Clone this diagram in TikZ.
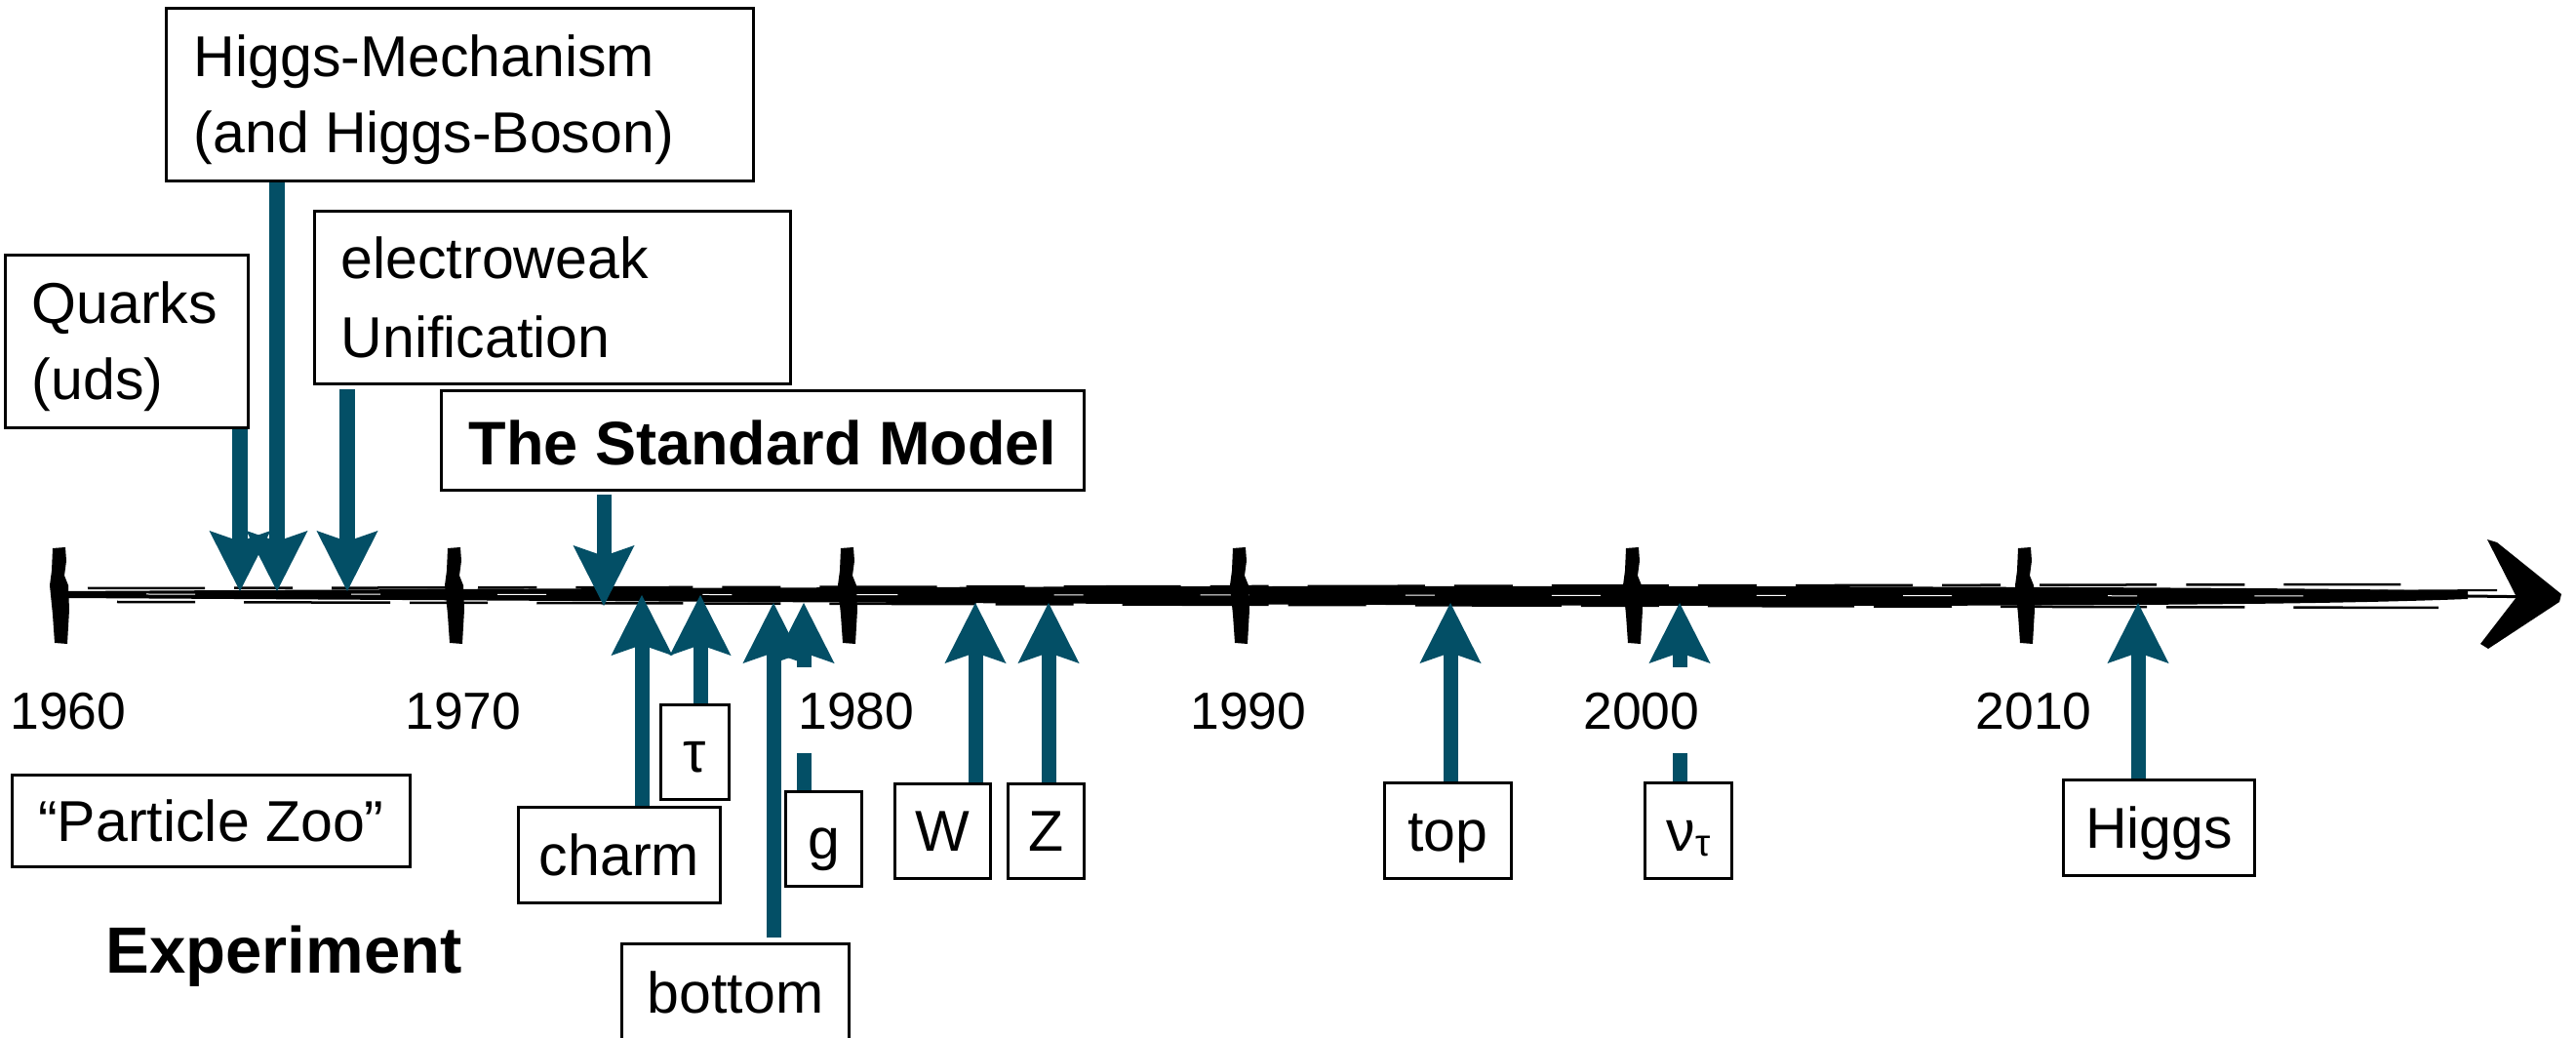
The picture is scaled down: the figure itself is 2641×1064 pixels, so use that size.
\documentclass[tikz,border=0pt]{standalone}
\usepackage{fontspec}
\setmainfont{Liberation Sans}
\usetikzlibrary{arrows.meta,calc}
\definecolor{tealc}{RGB}{3,79,102}
\newcommand\myboxfont{\fontsize{16.79pt}{20pt}\selectfont}
\newcommand\myyearfont{\fontsize{15.2pt}{18pt}\selectfont}
\newcommand\mysmfont{\fontsize{17.93pt}{21pt}\selectfont\bfseries}
\newcommand\myexpfont{\fontsize{19.06pt}{23pt}\selectfont\bfseries}
\begin{document}
\begin{tikzpicture}[x=0.01cm,y=-0.01cm,
  boxframe/.style={draw=black,line width=0.03cm,fill=white,inner sep=0pt},
  sbox/.style={boxframe,font=\myboxfont,text height=0.41cm,text depth=0cm},
  txt/.style={font=\myboxfont,inner sep=0pt,anchor=base west},
  yearlbl/.style={fill=white,font=\myyearfont,text height=0.38cm,text depth=0cm,minimum height=0.88cm,inner xsep=0.05cm,inner ysep=0pt},
  arr/.style={draw=tealc,line width=0.15cm,-{Stealth[length=0.62cm,width=0.63cm,inset=0.11cm,line width=0pt]}},
]
\useasboundingbox (0,0) rectangle (2641,1064);
\clip (0,0) rectangle (2641,1064);

% ---------- sketchy time axis ----------
\fill[black] (64,606) .. controls (600,603) and (1200,600) .. (1800,601)
   .. controls (2200,602) and (2400,603) .. (2530,606) -- (2530,614)
   .. controls (2400,619) and (2200,621) .. (1800,621)
   .. controls (1200,620) and (600,616) .. (64,613) -- cycle;
\draw[line width=0.025cm, dash pattern=on 1.2cm off 0.3cm on 0.6cm off 0.4cm] (90,603) -- (2480,599);
\draw[line width=0.025cm, dash pattern=on 0.8cm off 0.5cm on 1.5cm off 0.2cm] (120,617) -- (2500,623);
\draw[white, line width=0.01cm, dash pattern=on 0.5cm off 1.6cm on 0.3cm off 1.2cm] (150,609) -- (2450,611);
\draw[line width=0.03cm] (2450,610) -- (2610,612);
\draw[line width=0.02cm] (2400,606) -- (2560,605);
\fill (2550,553) -- (2560,556) -- (2626,609) -- (2624,617) -- (2551,665) -- (2543,660) -- (2580,612) -- cycle;

\foreach \t in {61,466,869,1271,1674,2076}{
  \fill (\t-7,562) -- (\t+6,561) -- (\t+7,575) -- (\t+5,590) -- (\t+9,600) -- (\t+10,625)
     -- (\t+8,660) -- (\t-5,659) -- (\t-7,630) -- (\t-10,600) -- (\t-8,585) -- cycle;
}

% ---------- theory boxes ----------
\node[boxframe, minimum width=6.01cm, minimum height=1.76cm] (higgsM) at (471.5,97) {};
\node[txt] (higgsMa) at (198,79) {Higgs-Mechanism};
\node[txt] (higgsMb) at (198,157) {(and Higgs-Boson)};

\node[boxframe, minimum width=2.48cm, minimum height=1.76cm] (quarks) at (130,350) {};
\node[txt] (quarksa) at (32,332) {Quarks};
\node[txt] (quarksb) at (32,410) {(uds)};

\node[boxframe, minimum width=4.87cm, minimum height=1.76cm] (ew) at (566.5,305) {};
\node[txt] (ewa) at (349,286) {electroweak};
\node[txt] (ewb) at (349,367) {Unification};

\node[boxframe, font=\mysmfont, text height=0.49cm, text depth=0cm,
      minimum width=6.58cm, minimum height=1.01cm] (sm) at (782,451.5) {The Standard Model};

% ---------- experiment boxes ----------
\node[sbox, minimum width=4.07cm, minimum height=0.93cm] (zoo) at (216.5,841.5) {“Particle Zoo”};
\node[font=\myexpfont, anchor=base west, inner sep=0pt] (exp) at (108,998) {Experiment};

\node[sbox, minimum width=2.06cm, minimum height=0.97cm] (charm) at (635,876.5) {charm};
\node[sbox, minimum width=0.69cm, minimum height=0.96cm] (tau) at (712.5,771) {τ};
\node[sbox, text depth=0.21cm, minimum width=2.32cm, minimum height=1.20cm] (bottom) at (754,1028) {bottom};
\node[sbox, minimum width=0.77cm, minimum height=0.96cm] (gl) at (844.5,860) {g};
\node[sbox, minimum width=0.97cm, minimum height=0.96cm] (wb) at (966.5,852) {W};
\node[sbox, minimum width=0.77cm, minimum height=0.96cm] (zb) at (1072.5,852) {Z};
\node[sbox, minimum width=1.29cm, minimum height=0.97cm] (top) at (1484.5,851.5) {top};
\node[sbox, minimum width=0.88cm, minimum height=0.97cm] (nu) at (1731,851.5) {ν\raisebox{-0.05cm}{\fontsize{11pt}{11pt}\selectfont τ}};
\node[sbox, minimum width=1.95cm, minimum height=0.97cm] (higgs) at (2213.5,848.5) {Higgs};

% ---------- arrow targets on the axis ----------
\coordinate (aQ) at (246,606);
\coordinate (aHM) at (284,606);
\coordinate (aEW) at (356,606);
\coordinate (aSM) at (619,621);
\coordinate (aC) at (658,610);
\coordinate (aT) at (718,610);
\coordinate (aB) at (793,618);
\coordinate (aG) at (824,618);
\coordinate (aW) at (1000,618);
\coordinate (aZ) at (1075,618);
\coordinate (aTop) at (1487,618);
\coordinate (aNu) at (1722,618);
\coordinate (aH) at (2192,618);

% ---------- arrows ----------
\draw[arr] (quarks.south -| aQ) -- (aQ);
\draw[arr] (higgsM.south -| aHM) -- (aHM);
\draw[arr, shorten <=0.04cm] (ew.south -| aEW) -- (aEW);
\draw[arr, shorten <=0.03cm] (sm.south -| aSM) -- (aSM);
\draw[arr] (charm.north -| aC) -- (aC);
\draw[arr] (tau.north -| aT) -- (aT);
\draw[arr, shorten <=0.05cm] (bottom.north -| aB) -- (aB);
\draw[arr] (gl.north -| aG) -- (aG);
\draw[arr] (wb.north -| aW) -- (aW);
\draw[arr] (zb.north -| aZ) -- (aZ);
\draw[arr] (top.north -| aTop) -- (aTop);
\draw[arr] (nu.north -| aNu) -- (aNu);
\draw[arr] (higgs.north -| aH) -- (aH);

% ---------- year labels (white, on top) ----------
\node[yearlbl] (y1960) at (70,728) {1960};
\node[yearlbl] (y1970) at (475,728) {1970};
\node[yearlbl] (y1980) at (878,728) {1980};
\node[yearlbl] (y1990) at (1280,728) {1990};
\node[yearlbl] (y2000) at (1683,728) {2000};
\node[yearlbl] (y2010) at (2085,728) {2010};
\end{tikzpicture}
\end{document}
